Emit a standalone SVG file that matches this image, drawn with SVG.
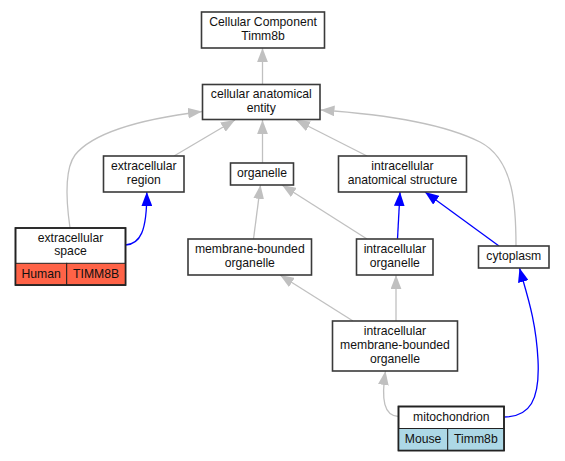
<svg xmlns="http://www.w3.org/2000/svg" width="565" height="461" viewBox="0 0 565 461">
<style>
text{font-family:"Liberation Sans",Arial,sans-serif;font-size:12.2px;fill:#111;text-anchor:middle}
.box{fill:#fff;stroke:#3a3a3a;stroke-width:1.6}
.cell{stroke:#222;stroke-width:1}
.human{fill:#ff6347}
.mouse{fill:#add8e6}
.g{fill:none;stroke:#c0c0c0;stroke-width:1.3}
.b{fill:none;stroke:#0000ff;stroke-width:1.3}
</style>
<defs>
<marker id="ag" markerUnits="userSpaceOnUse" markerWidth="14" markerHeight="11" viewBox="0 0 13 10" refX="13" refY="5" orient="auto"><path d="M0,0 L13,5 L0,10 z" fill="#c0c0c0"/></marker>
<marker id="ab" markerUnits="userSpaceOnUse" markerWidth="14" markerHeight="11" viewBox="0 0 13 10" refX="13" refY="5" orient="auto"><path d="M0,0 L13,5 L0,10 z" fill="#0000ff"/></marker>
</defs>
<rect width="565" height="461" fill="#fff"/>
<g id="edges">
<path class="g" marker-end="url(#ag)" d="M262.5,84.5 L262.5,48"/>
<path class="g" marker-end="url(#ag)" d="M174,156 L235,120"/>
<path class="g" marker-end="url(#ag)" d="M262.5,163 L262.5,120"/>
<path class="g" marker-end="url(#ag)" d="M367,156 L296,120"/>
<path class="g" marker-end="url(#ag)" d="M70,228 C66,200 64,170 75,155 C95,130 150,118 202,111.5"/>
<path class="g" marker-end="url(#ag)" d="M516,246 C516,210 515,160 480,142 C440,122 380,114 320.5,110"/>
<path class="b" marker-end="url(#ab)" d="M125.5,245 C140,244 147,232 146.8,192"/>
<path class="g" marker-end="url(#ag)" d="M253.5,239 L260.5,185"/>
<path class="g" marker-end="url(#ag)" d="M367,239 L282,185"/>
<path class="b" marker-end="url(#ab)" d="M397.5,239 L400,192"/>
<path class="b" marker-end="url(#ab)" d="M499,246 L425,192"/>
<path class="g" marker-end="url(#ag)" d="M353,321 L280,275"/>
<path class="g" marker-end="url(#ag)" d="M396,321 L396,275"/>
<path class="g" marker-end="url(#ag)" d="M398.5,416.5 C384,416 381,400 385.5,371"/>
<path class="b" marker-end="url(#ab)" d="M504,417 C530,417 540,400 538,360 C536,320 527,295 519.5,268"/>
</g>
<g id="node-cellular-component">
<rect class="box" x="201.5" y="12" width="123" height="36"/>
<text x="263" y="26.15">Cellular Component</text>
<text x="263" y="39.85">Timm8b</text>
</g>
<g id="node-cellular-anatomical-entity">
<rect class="box" x="202.5" y="84.5" width="117.5" height="35"/>
<text x="261.3" y="98.15">cellular anatomical</text>
<text x="261.3" y="111.85">entity</text>
</g>
<g id="node-extracellular-region">
<rect class="box" x="103.5" y="156" width="80.5" height="36"/>
<text x="143.8" y="170.15">extracellular</text>
<text x="143.8" y="183.85">region</text>
</g>
<g id="node-organelle">
<rect class="box" x="230.5" y="163" width="63" height="22"/>
<text x="262" y="176.8">organelle</text>
</g>
<g id="node-intracellular-anatomical-structure">
<rect class="box" x="338.5" y="156" width="128" height="36"/>
<text x="402.5" y="170.15">intracellular</text>
<text x="402.5" y="183.85">anatomical structure</text>
</g>
<g id="node-extracellular-space">
<rect class="box" x="15.5" y="228" width="110" height="57"/>
<rect class="cell human" x="15.5" y="263.3" width="51.2" height="21.7"/>
<rect class="cell human" x="66.7" y="263.3" width="58.8" height="21.7"/>
<rect x="15.5" y="228" width="110" height="57" fill="none" stroke="#222" stroke-width="1.6"/>
<text x="70.5" y="241.65">extracellular</text>
<text x="70.5" y="255.35">space</text>
<text x="41.1" y="277.8">Human</text>
<text x="96.1" y="277.8">TIMM8B</text>
</g>
<g id="node-membrane-bounded-organelle">
<rect class="box" x="188" y="239" width="123.5" height="36"/>
<text x="249.8" y="253.15">membrane-bounded</text>
<text x="249.8" y="266.85">organelle</text>
</g>
<g id="node-intracellular-organelle">
<rect class="box" x="356.5" y="239" width="76.5" height="36"/>
<text x="394.8" y="253.15">intracellular</text>
<text x="394.8" y="266.85">organelle</text>
</g>
<g id="node-cytoplasm">
<rect class="box" x="478.5" y="246" width="70.5" height="22"/>
<text x="513.8" y="259.8">cytoplasm</text>
</g>
<g id="node-intracellular-membrane-bounded-organelle">
<rect class="box" x="332.5" y="321" width="125" height="50"/>
<text x="395" y="335.3">intracellular</text>
<text x="395" y="349">membrane-bounded</text>
<text x="395" y="362.7">organelle</text>
</g>
<g id="node-mitochondrion">
<rect class="box" x="398.5" y="406.5" width="105.5" height="44"/>
<rect class="cell mouse" x="398.5" y="428.5" width="49.2" height="22"/>
<rect class="cell mouse" x="447.7" y="428.5" width="56.3" height="22"/>
<rect x="398.5" y="406.5" width="105.5" height="44" fill="none" stroke="#222" stroke-width="1.6"/>
<text x="451.3" y="420.7">mitochondrion</text>
<text x="423.1" y="442.8">Mouse</text>
<text x="475.9" y="442.8">Timm8b</text>
</g>
</svg>
